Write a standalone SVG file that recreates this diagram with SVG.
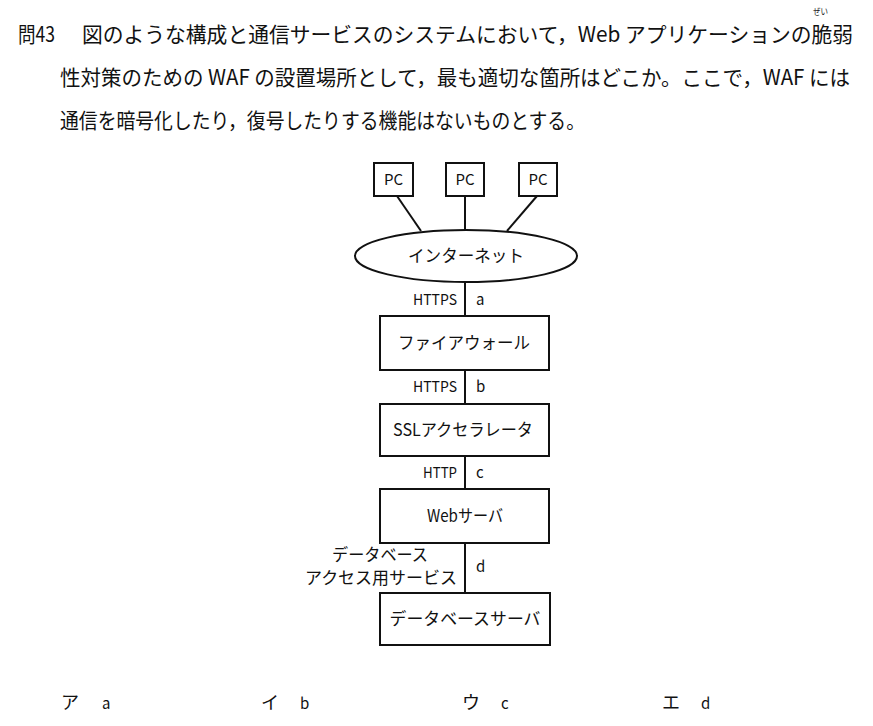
<svg xmlns="http://www.w3.org/2000/svg" width="873" height="726" viewBox="0 0 873 726">
<style>
text{font-family:"Noto Sans CJK JP","Noto Sans",sans-serif;fill:#111}
.q{font-size:21px}
.lbl{font-size:15px}
.box{font-size:17px}
.ans{font-size:18px}
.node{fill:#fff;stroke:#111;stroke-width:2}
.conn{stroke:#111;stroke-width:2;fill:none}
</style>
<rect width="873" height="726" fill="#fff"/>
<g id="question">
<text class="q" x="18" y="42" textLength="37" lengthAdjust="spacingAndGlyphs">問43</text>
<text class="q" x="82" y="42" textLength="771" lengthAdjust="spacingAndGlyphs">図のような構成と通信サービスのシステムにおいて，Web アプリケーションの脆弱</text>
<text x="813" y="15" style="font-size:9px" textLength="15" lengthAdjust="spacingAndGlyphs">ぜい</text>
<text class="q" x="60" y="85" textLength="790" lengthAdjust="spacingAndGlyphs">性対策のための WAF の設置場所として，最も適切な箇所はどこか。ここで，WAF には</text>
<text class="q" x="60" y="128" textLength="525" lengthAdjust="spacingAndGlyphs">通信を暗号化したり，復号したりする機能はないものとする。</text>
</g>
<g id="connectors">
<line class="conn" x1="397" y1="196" x2="421" y2="231"/>
<line class="conn" x1="465" y1="196" x2="465" y2="230"/>
<line class="conn" x1="537" y1="196" x2="507" y2="231"/>
<line class="conn" x1="465" y1="282" x2="465" y2="316"/>
<line class="conn" x1="465" y1="370" x2="465" y2="404"/>
<line class="conn" x1="465" y1="456" x2="465" y2="489"/>
<line class="conn" x1="465" y1="543" x2="465" y2="593"/>
</g>
<g id="pc1"><rect class="node" x="374" y="163" width="39" height="33"/><text class="lbl" x="393.5" y="185" text-anchor="middle">PC</text></g>
<g id="pc2"><rect class="node" x="446" y="163" width="38" height="33"/><text class="lbl" x="465" y="185" text-anchor="middle">PC</text></g>
<g id="pc3"><rect class="node" x="519" y="163" width="38" height="33"/><text class="lbl" x="538" y="185" text-anchor="middle">PC</text></g>
<g id="internet"><ellipse class="node" cx="466" cy="256" rx="111" ry="26"/><text class="box" x="466" y="262" text-anchor="middle" textLength="116" lengthAdjust="spacingAndGlyphs">インターネット</text></g>
<g id="label-a"><text class="lbl" x="457" y="305" text-anchor="end" textLength="44" lengthAdjust="spacingAndGlyphs">HTTPS</text><text class="lbl" x="476" y="305">a</text></g>
<g id="firewall"><rect class="node" x="380" y="316" width="169" height="54"/><text class="box" x="464" y="349" text-anchor="middle" textLength="132" lengthAdjust="spacingAndGlyphs">ファイアウォール</text></g>
<g id="label-b"><text class="lbl" x="457" y="392" text-anchor="end" textLength="44" lengthAdjust="spacingAndGlyphs">HTTPS</text><text class="lbl" x="476" y="392">b</text></g>
<g id="ssl"><rect class="node" x="380" y="404" width="169" height="52"/><text class="box" x="463" y="436" text-anchor="middle" textLength="140" lengthAdjust="spacingAndGlyphs">SSLアクセラレータ</text></g>
<g id="label-c"><text class="lbl" x="457" y="478" text-anchor="end" textLength="34" lengthAdjust="spacingAndGlyphs">HTTP</text><text class="lbl" x="476" y="478">c</text></g>
<g id="web"><rect class="node" x="380" y="489" width="169" height="54"/><text class="box" x="465" y="522" text-anchor="middle" textLength="76" lengthAdjust="spacingAndGlyphs">Webサーバ</text></g>
<g id="label-d"><text class="box" x="380" y="561" text-anchor="middle" textLength="96" lengthAdjust="spacingAndGlyphs">データベース</text><text class="box" x="381" y="584" text-anchor="middle" textLength="152" lengthAdjust="spacingAndGlyphs">アクセス用サービス</text><text class="lbl" x="476" y="572">d</text></g>
<g id="dbserver"><rect class="node" x="380" y="593" width="170" height="52"/><text class="box" x="465" y="625" text-anchor="middle" textLength="151" lengthAdjust="spacingAndGlyphs">データベースサーバ</text></g>
<g id="answers">
<text class="ans" x="61" y="709">ア</text><text class="lbl" x="102" y="709">a</text>
<text class="ans" x="261" y="709">イ</text><text class="lbl" x="300" y="709">b</text>
<text class="ans" x="462" y="709">ウ</text><text class="lbl" x="501" y="709">c</text>
<text class="ans" x="662" y="709">エ</text><text class="lbl" x="701" y="709">d</text>
</g>
</svg>
